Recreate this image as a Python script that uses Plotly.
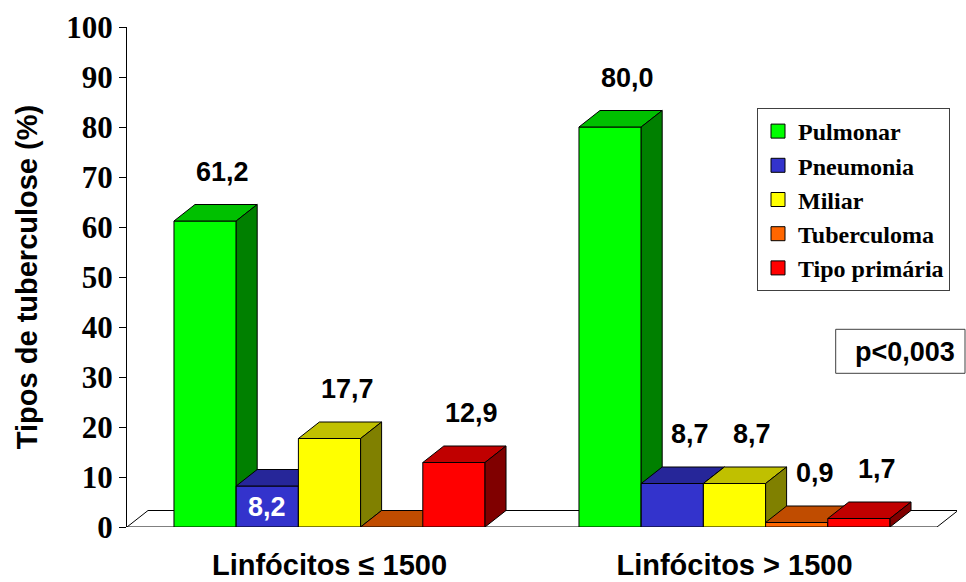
import plotly.graph_objects as go

# ---- data -------------------------------------------------------------
categories = ["Linfócitos ≤ 1500", "Linfócitos > 1500"]
series_names = ["Pulmonar", "Pneumonia", "Miliar", "Tuberculoma", "Tipo primária"]
pulmonar = [61.2, 80.0]
pneumonia = [8.2, 8.7]
miliar = [17.7, 8.7]
tuberculoma = [0.0, 0.9]
tipo_primaria = [12.9, 1.7]
y_ticks = [0, 10, 20, 30, 40, 50, 60, 70, 80, 90, 100]
y_title = "Tipos de tuberculose (%)"
p_value_text = "p<0,003"

series_values = [pulmonar, pneumonia, miliar, tuberculoma, tipo_primaria]

# ---- style ------------------------------------------------------------
front_colors = ["#00FF00", "#3333CC", "#FFFF00", "#FF6600", "#FF0000"]
top_colors = ["#00C000", "#262699", "#C0C000", "#C04C00", "#C00000"]
side_colors = ["#008000", "#1A1A66", "#808000", "#803300", "#800000"]

W, H = 966, 582
M_L, M_R, M_T, M_B = 127, 9, 27, 55
plot_w, plot_h = W - M_L - M_R, H - M_T - M_B

X_LO, X_HI = -0.5, 1.5 + 20 / 405          # room on the right for the floor depth
Y_LO, Y_HI = 0, 100
px_x = plot_w / (X_HI - X_LO)
px_y = plot_h / (Y_HI - Y_LO)

# oblique depth of the 3-D bars, in pixels, converted to axis units
DEPTH_PX_X, DEPTH_PX_Y = 21, 16.5
dx = DEPTH_PX_X / px_x
dy = DEPTH_PX_Y / px_y

GROUP_WIDTH = 0.768
bar_w = GROUP_WIDTH / len(series_values)
LABEL_GAP_PX = 33
labels_inside = {(0, 1)}

SANS = "Liberation Sans"
SERIF = "Liberation Serif"


def fmt(v):
    return f"{v:.1f}".replace(".", ",")


def poly(xs, ys, color):
    return go.Scatter(
        x=xs + [xs[0]], y=ys + [ys[0]], mode="lines", fill="toself",
        fillcolor=color, line=dict(color="black", width=1),
        hoverinfo="skip", showlegend=False,
    )


fig = go.Figure()

# floor of the chart
x_floor0, x_floor1 = X_LO, 1.5
fig.add_trace(poly([x_floor0, x_floor0 + dx, x_floor1 + dx, x_floor1],
                   [0, dy, dy, 0], "white"))

annotations = []
for c in range(len(categories)):
    start = c - GROUP_WIDTH / 2
    for s, vals in enumerate(series_values):
        v = vals[c]
        x0 = start + s * bar_w
        x1 = x0 + bar_w
        # front face
        fig.add_trace(poly([x0, x1, x1, x0], [0, 0, v, v], front_colors[s]))
        # top face
        fig.add_trace(poly([x0, x1, x1 + dx, x0 + dx], [v, v, v + dy, v + dy], top_colors[s]))
        # right side face
        fig.add_trace(poly([x1, x1 + dx, x1 + dx, x1], [0, dy, v + dy, v], side_colors[s]))

        if v <= 0:
            continue
        xc = (x0 + x1) / 2
        if (c, s) in labels_inside:
            annotations.append(dict(
                x=xc, y=v / 2, text=fmt(v), showarrow=False,
                font=dict(family=SANS, size=27, color="white", weight="bold"),
                xanchor="center", yanchor="middle"))
        else:
            annotations.append(dict(
                x=xc + 0.85 * dx, y=v + dy + LABEL_GAP_PX / px_y, text=fmt(v),
                showarrow=False,
                font=dict(family=SANS, size=27, color="black", weight="bold"),
                xanchor="center", yanchor="middle"))

# legend entries
for name, col in zip(series_names, front_colors):
    fig.add_trace(go.Scatter(
        x=[None], y=[None], mode="markers", name=name,
        marker=dict(symbol="square", size=14, color=col,
                    line=dict(color="black", width=1)),
    ))

# p-value box
fig.add_shape(type="rect", xref="paper", yref="paper",
              x0=(835.7 - M_L) / plot_w, x1=(965 - M_L) / plot_w,
              y0=(H - M_B - 373.3) / plot_h, y1=(H - M_B - 329.3) / plot_h,
              line=dict(color="#404040", width=1), fillcolor="white", layer="above")
annotations.append(dict(
    xref="paper", yref="paper",
    x=(905 - M_L) / plot_w, y=(H - M_B - 352) / plot_h,
    text=p_value_text, showarrow=False,
    font=dict(family=SANS, size=27, color="black", weight="bold"),
    xanchor="center", yanchor="middle"))

fig.update_layout(
    width=W, height=H, autosize=False,
    margin=dict(l=M_L, r=M_R, t=M_T, b=M_B, pad=0, autoexpand=False),
    paper_bgcolor="white", plot_bgcolor="white",
    showlegend=True,
    legend=dict(
        x=(757 - M_L) / plot_w, y=(H - M_B - 108) / plot_h,
        xanchor="left", yanchor="top",
        bordercolor="#404040", borderwidth=1, bgcolor="white",
        font=dict(family=SERIF, size=24, color="black", weight="bold"),
        tracegroupgap=0, itemclick=False, itemdoubleclick=False,
    ),
    annotations=annotations,
    xaxis=dict(
        range=[X_LO, X_HI], tickvals=[0, 1], ticktext=categories,
        showline=False, showgrid=False, zeroline=False, ticks="",
        tickfont=dict(family=SANS, size=29, color="black", weight="bold"),
        ticklabelstandoff=18, fixedrange=True, automargin=False,
    ),
    yaxis=dict(
        range=[Y_LO, Y_HI], tickvals=y_ticks,
        showline=True, linecolor="black", linewidth=1,
        ticks="outside", ticklen=7, tickcolor="black", tickwidth=1,
        showgrid=False, zeroline=False,
        tickfont=dict(family=SERIF, size=31, color="black", weight="bold"),
        title=dict(text=y_title, standoff=20,
                   font=dict(family=SANS, size=29, color="black", weight="bold")),
        fixedrange=True, automargin=False,
    ),
)

fig.write_html("out.html")
